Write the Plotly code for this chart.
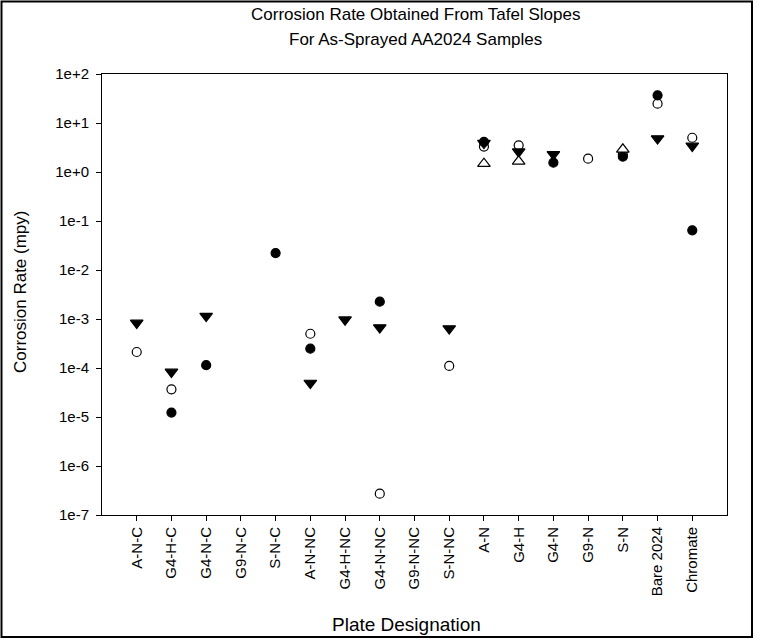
import plotly.graph_objects as go

# Plate designations along the x axis
plates = ["A-N-C", "G4-H-C", "G4-N-C", "G9-N-C", "S-N-C",
          "A-N-NC", "G4-H-NC", "G4-N-NC", "G9-N-NC", "S-N-NC",
          "A-N", "G4-H", "G4-N", "G9-N", "S-N", "Bare 2024", "Chromate"]

# Corrosion rate (mpy) per sample set; None where no measurement exists
rate_open_circle = [2.12e-4, 3.67e-5, None, None, None,
                    5.0e-4, None, 2.73e-7, None, 1.1e-4,
                    3.3, 3.5, None, 1.87, 2.3, 24.8, 5.0]
rate_filled_circle = [None, 1.23e-5, 1.14e-4, None, 0.0222,
                      2.48e-4, None, 2.26e-3, None, None,
                      4.1, None, 1.55, None, 2.05, 36.7, 0.0645]
rate_filled_tri = [8.3e-4, 8.3e-5, 1.15e-3, None, None,
                   4.94e-5, 9.7e-4, 6.67e-4, None, 6.37e-4,
                   3.9, 2.6, 2.3, None, None, 4.8, 3.4]
rate_open_tri = [None, None, None, None, None,
                 None, None, None, None, None,
                 1.48, 1.65, None, None, 2.9, None, None]

y_tick_vals = [1e-7, 1e-6, 1e-5, 1e-4, 1e-3, 1e-2, 1e-1, 1e0, 1e1, 1e2]
y_tick_text = ["1e-7", "1e-6", "1e-5", "1e-4", "1e-3", "1e-2", "1e-1", "1e+0", "1e+1", "1e+2"]

title_lines = ["Corrosion Rate Obtained From Tafel Slopes", "For As-Sprayed AA2024 Samples"]
x_title = "Plate Designation"
y_title = "Corrosion Rate (mpy)"

xpos = list(range(len(plates)))
FONT = "Arial, Liberation Sans, sans-serif"

fig = go.Figure()

def add_series(vals, symbol, fill, size, name):
    fig.add_trace(go.Scatter(
        x=xpos, y=vals, mode="markers", name=name,
        marker=dict(symbol=symbol, size=size, color=fill,
                    line=dict(color="black", width=1.2)),
        showlegend=False, cliponaxis=False,
    ))

add_series(rate_open_circle, "circle", "white", 9, "open circle")
add_series(rate_filled_circle, "circle", "black", 9, "filled circle")
add_series(rate_filled_tri, "triangle-down", "black", 11, "filled triangle")
add_series(rate_open_tri, "triangle-up", "white", 11, "open triangle")

L, R, T, B = 102, 33, 74, 129
W, H = 760, 644
pw, ph = W - L - R, H - T - B

def px_x(p):
    return (p - L) / pw

def px_y(p):
    return (H - B - p) / ph

# outer frame around the whole figure
fig.add_shape(type="rect", xref="paper", yref="paper",
              x0=px_x(1.5), x1=px_x(752), y0=px_y(637), y1=px_y(1.5),
              line=dict(color="black", width=2), fillcolor="rgba(0,0,0,0)")

# two-line heading
for text, yc in zip(title_lines, [14, 39]):
    fig.add_annotation(text=text, xref="paper", yref="paper",
                       x=px_x(415), y=px_y(yc), xanchor="center", yanchor="middle",
                       showarrow=False, font=dict(size=17, family=FONT))

# axis titles
fig.add_annotation(text=x_title, xref="paper", yref="paper",
                   x=px_x(406), y=px_y(624), xanchor="center", yanchor="middle",
                   showarrow=False, font=dict(size=19, family=FONT))
fig.add_annotation(text=y_title, xref="paper", yref="paper",
                   x=px_x(20), y=px_y(292), xanchor="center", yanchor="middle",
                   textangle=-90, showarrow=False, font=dict(size=17, family=FONT))

fig.update_layout(
    width=W, height=H,
    margin=dict(l=L, r=R, t=T, b=B),
    paper_bgcolor="white", plot_bgcolor="white",
    font=dict(family=FONT, color="black"),
)

fig.update_xaxes(
    range=[-1, 17], tickmode="array", tickvals=xpos, ticktext=plates,
    tickangle=-90, ticks="outside", ticklen=5, tickcolor="black",
    showline=True, linecolor="black", linewidth=1, mirror=True,
    showgrid=False, zeroline=False, tickfont=dict(size=15),
)
fig.update_yaxes(
    type="log", range=[-7, 2], tickmode="array",
    tickvals=y_tick_vals, ticktext=y_tick_text,
    ticks="outside", ticklen=5, tickcolor="black", ticklabelstandoff=4,
    showline=True, linecolor="black", linewidth=1, mirror=True,
    showgrid=False, zeroline=False, tickfont=dict(size=15),
)

fig.write_html("out.html")
